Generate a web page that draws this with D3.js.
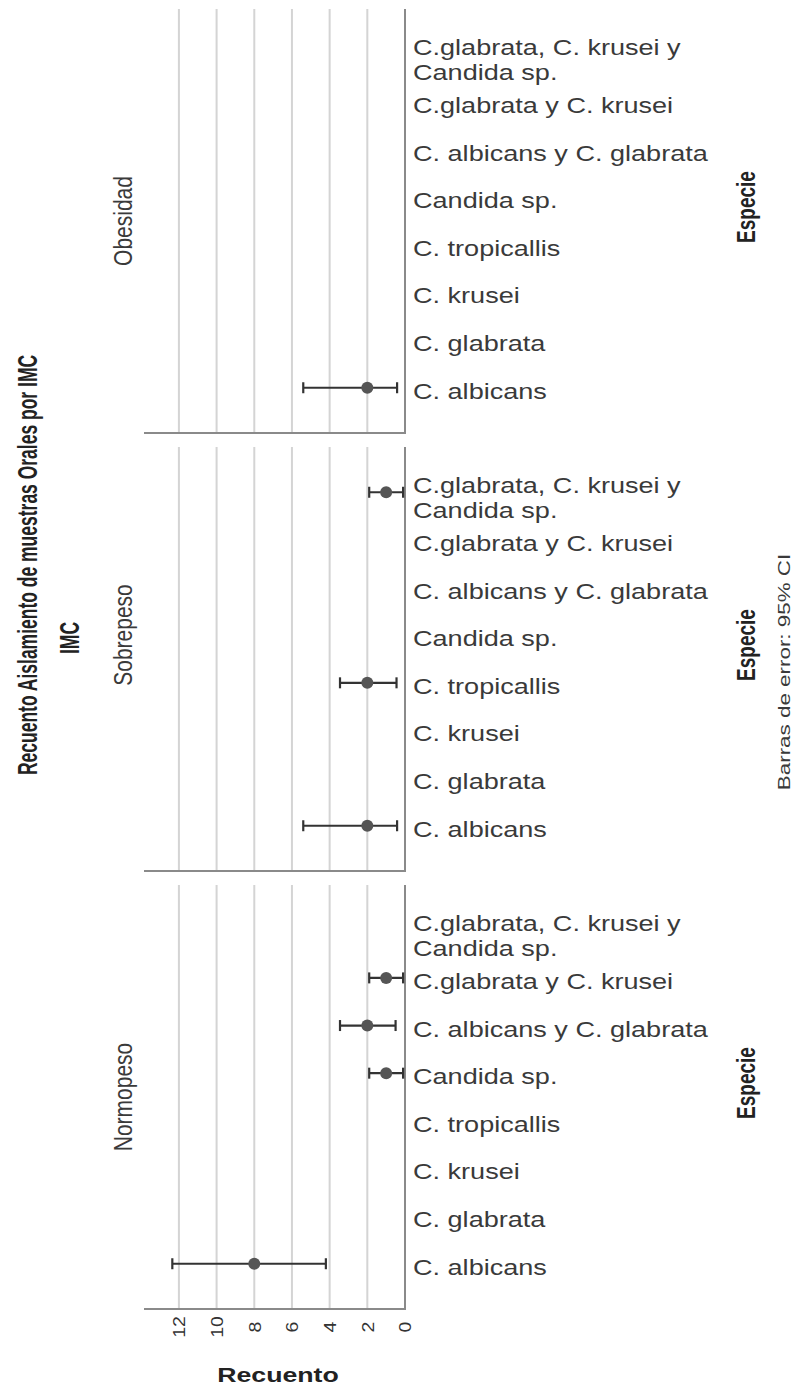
<!DOCTYPE html>
<html>
<head>
<meta charset="utf-8">
<script src="https://cdn.jsdelivr.net/npm/d3@7"></script>
<style>
  html, body { margin: 0; padding: 0; background: #fff; }
  svg { display: block; font-family: "Liberation Sans", Arial, sans-serif; }
</style>
</head>
<body>
<svg id="chart" width="804" height="1388"></svg>
<script>
// Species on the category axis, listed bottom to top
const species = [
  "C. albicans",
  "C. glabrata",
  "C. krusei",
  "C. tropicallis",
  "Candida sp.",
  "C. albicans y C. glabrata",
  "C.glabrata y C. krusei",
  "C.glabrata, C. krusei y Candida sp."
];

// BMI groups, one panel each (top to bottom)
const groups = ["Obesidad", "Sobrepeso", "Normopeso"];

// Counts with 95% confidence limits
const pointGroup   = ["Obesidad", "Sobrepeso", "Sobrepeso", "Sobrepeso", "Normopeso", "Normopeso", "Normopeso", "Normopeso"];
const pointSpecies = ["C. albicans", "C.glabrata, C. krusei y Candida sp.", "C. tropicallis", "C. albicans",
                      "C.glabrata y C. krusei", "C. albicans y C. glabrata", "Candida sp.", "C. albicans"];
const pointCount   = [2, 1, 2, 2, 1, 2, 1, 8];
const ciLow        = [0.42, 0.1, 0.45, 0.42, 0.1, 0.5, 0.1, 4.2];
const ciHigh       = [5.4, 1.9, 3.45, 5.4, 1.9, 3.45, 1.9, 12.35];

const countTicks = [0, 2, 4, 6, 8, 10, 12];

// Horizontal stretch applied to the lettering
const SX = 1.23;

const svg = d3.select("#chart");

const plotLeft = 145, plotRight = 405;
const panelTop = 9, panelH = 424, panelGap = 14;

const x = d3.scaleLinear().domain([0, 13.8]).range([plotRight, plotLeft]);

const y = d3.scalePoint().domain(species.slice().reverse()).range([0, panelH]).padding(0.95);

const points = pointCount.map((c, i) => ({
  group: pointGroup[i], species: pointSpecies[i], count: c, lo: ciLow[i], hi: ciHigh[i]
}));

function hText(sel, xPos, yPos, sx = SX) {
  return sel.attr("transform", `translate(${xPos},${yPos}) scale(${sx},1)`);
}
// rotated text; sx stretches across the letters, sy along the reading direction
function vText(sel, xPos, yPos, sx = SX, sy = 1) {
  return sel.attr("transform", `translate(${xPos},${yPos}) scale(${sx},${sy}) rotate(-90)`);
}

// vertical offsets of the panel labels from the panel centre
const facetShift = [0, -24, 0];

groups.forEach((g, gi) => {
  const top = panelTop + gi * (panelH + panelGap);
  const panel = svg.append("g").attr("transform", `translate(0,${top})`);

  // vertical gridlines
  panel.selectAll("line.grid")
    .data(countTicks.filter(t => t > 0))
    .join("line")
    .attr("class", "grid")
    .attr("x1", d => x(d)).attr("x2", d => x(d))
    .attr("y1", 0).attr("y2", panelH)
    .attr("stroke", "#d4d4d4").attr("stroke-width", 2);

  // axis frame: right (zero) line and bottom line
  panel.append("line")
    .attr("x1", x(0)).attr("x2", x(0)).attr("y1", 0).attr("y2", panelH)
    .attr("stroke", "#8a8a8a").attr("stroke-width", 2);
  panel.append("line")
    .attr("x1", plotLeft - 1).attr("x2", x(0) + 1).attr("y1", panelH).attr("y2", panelH)
    .attr("stroke", "#8a8a8a").attr("stroke-width", 2);

  // species labels
  species.forEach(s => {
    const t = panel.append("text")
      .attr("fill", "#3a3a3a")
      .attr("font-size", 22);
    hText(t, 413, y(s));
    // greedy wrap to a maximum drawn width
    const words = s.split(" ");
    const lines = [];
    let cur = "";
    const probe = t.append("tspan");
    words.forEach(w => {
      const trial = cur ? cur + " " + w : w;
      probe.text(trial);
      if (probe.node().getComputedTextLength() * SX > 300 && cur) {
        lines.push(cur);
        cur = w;
      } else {
        cur = trial;
      }
    });
    lines.push(cur);
    probe.remove();
    const first = lines.length > 1 ? 1 : 11;
    lines.forEach((ln, li) => {
      t.append("tspan").attr("x", 0).attr("y", first + li * 25).text(ln);
    });
  });

  // facet label
  vText(panel.append("text"), 123, panelH / 2 + facetShift[gi], 1.27)
    .attr("text-anchor", "middle")
    .attr("dominant-baseline", "central")
    .attr("font-size", 21)
    .attr("fill", "#3a3a3a")
    .text(g);

  // category axis title
  vText(panel.append("text"), 746, panelH / 2 - 14, 1.35)
    .attr("text-anchor", "middle")
    .attr("dominant-baseline", "central")
    .attr("font-size", 19)
    .attr("font-weight", "bold")
    .attr("fill", "#222")
    .text("Especie");

  // error bars and points
  const pts = points.filter(p => p.group === g);
  const eb = panel.selectAll("g.eb").data(pts).join("g").attr("class", "eb");
  eb.append("line")
    .attr("x1", d => x(d.lo)).attr("x2", d => x(d.hi))
    .attr("y1", d => y(d.species)).attr("y2", d => y(d.species))
    .attr("stroke", "#333").attr("stroke-width", 2.2);
  eb.append("line")
    .attr("x1", d => x(d.lo)).attr("x2", d => x(d.lo))
    .attr("y1", d => y(d.species) - 5.5).attr("y2", d => y(d.species) + 5.5)
    .attr("stroke", "#333").attr("stroke-width", 2.2);
  eb.append("line")
    .attr("x1", d => x(d.hi)).attr("x2", d => x(d.hi))
    .attr("y1", d => y(d.species) - 5.5).attr("y2", d => y(d.species) + 5.5)
    .attr("stroke", "#333").attr("stroke-width", 2.2);
  eb.append("circle")
    .attr("cx", d => x(d.count)).attr("cy", d => y(d.species))
    .attr("r", 6)
    .attr("fill", "#555");
});

// count axis tick labels below the last panel
const axisY = panelTop + 3 * panelH + 2 * panelGap;
countTicks.forEach(t => {
  vText(svg.append("text"), x(t) + 1, axisY + 18, 1.05, 1.3)
    .attr("text-anchor", "middle")
    .attr("dominant-baseline", "central")
    .attr("font-size", 15)
    .attr("fill", "#333")
    .text(t);
});

hText(svg.append("text"), 278, 1382, 1.27)
  .attr("text-anchor", "middle")
  .attr("font-size", 21)
  .attr("font-weight", "bold")
  .attr("fill", "#222")
  .text("Recuento");

// chart title and panel-variable title
vText(svg.append("text"), 27, 565, 1.55)
  .attr("text-anchor", "middle")
  .attr("dominant-baseline", "central")
  .attr("font-size", 17.5)
  .attr("font-weight", "bold")
  .attr("fill", "#222")
  .text("Recuento Aislamiento de muestras Orales por IMC");

vText(svg.append("text"), 69, 638, 1.55)
  .attr("text-anchor", "middle")
  .attr("dominant-baseline", "central")
  .attr("font-size", 17.5)
  .attr("font-weight", "bold")
  .attr("fill", "#222")
  .text("IMC");

vText(svg.append("text"), 784, 672, 1.05, 1.4)
  .attr("text-anchor", "middle")
  .attr("dominant-baseline", "central")
  .attr("font-size", 16)
  .attr("fill", "#3a3a3a")
  .text("Barras de error: 95% CI");
</script>
</body>
</html>
